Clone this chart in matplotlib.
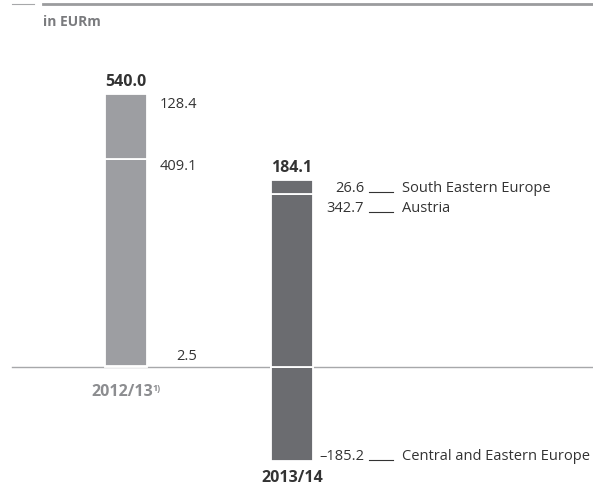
import matplotlib.pyplot as plt
from matplotlib.lines import Line2D

plt.rcParams['font.family'] = ['Open Sans', 'DejaVu Sans']

years = ['2012/13', '2013/14']
regions = ['Central and Eastern Europe', 'Austria', 'South Eastern Europe']
# values per region, first year then second year
cee = [2.5, -185.2]
austria = [409.1, 342.7]
see = [128.4, 26.6]
totals = [540.0, 184.1]

bar_colors = ['#9d9ea2', '#6b6c70']
dark = '#333333'
gray = '#8c8d90'
line_gray = '#a7a8aa'
fs = 10.5
fs_bold = 11.5

fig = plt.figure(figsize=(5.93, 4.87), dpi=100)
ax = fig.add_axes([0, 0, 1, 1])
ax.set_xlim(-0.759, 2.813)
ax.set_ylim(-237.6, 726.7)
ax.axis('off')

w = 0.253
x = [0, 1]

# baseline
ax.axhline(0, xmin=12 / 593, xmax=1, color=line_gray, lw=1, zorder=1)

for i in range(2):
    # stack: positives from zero up, negatives from zero down
    pos_bottom = 0.0
    neg_bottom = 0.0
    for v in [cee[i], austria[i], see[i]]:
        if v >= 0:
            ax.bar(x[i], v, w, bottom=pos_bottom, color=bar_colors[i],
                   edgecolor='white', linewidth=1.3, zorder=2)
            pos_bottom += v
        else:
            ax.bar(x[i], v, w, bottom=neg_bottom, color=bar_colors[i],
                   edgecolor='white', linewidth=1.3, zorder=2)
            neg_bottom += v
    # total on top of bar
    ax.annotate(f'{totals[i]:.1f}', (x[i], pos_bottom), xytext=(0, 3),
                textcoords='offset points', ha='center', va='bottom',
                fontsize=fs_bold, fontweight='bold', color=dark)

# labels for first year (right of bar, aligned at top of segments)
lx = 0.428
top_see = cee[0] + austria[0] + see[0]
top_aut = cee[0] + austria[0]
ax.annotate(f'{see[0]:.1f}', (lx, top_see), xytext=(0, -2), textcoords='offset points',
            ha='right', va='top', fontsize=fs, color=dark)
ax.annotate(f'{austria[0]:.1f}', (lx, top_aut), xytext=(0, 0), textcoords='offset points',
            ha='right', va='top', fontsize=fs, color=dark)
ax.annotate(f'{cee[0]:.1f}', (lx, cee[0]), xytext=(0, 1.5), textcoords='offset points',
            ha='right', va='bottom', fontsize=fs, color=dark)

# labels for second year with leader lines and region names
rx = 1.434
top2 = austria[1] + see[1]
label_y = [top2 - 23, top2 - 62, cee[1] + 1]
label_v = [see[1], austria[1], cee[1]]
label_n = ['South Eastern Europe', 'Austria', 'Central and Eastern Europe']
for yy, v, n in zip(label_y, label_v, label_n):
    txt = f'{v:.1f}'.replace('-', '\u2013')
    ax.text(rx, yy, txt, ha='right', va='baseline', fontsize=fs, color=dark)
    ax.plot([1.464, 1.608], [yy, yy], color=dark, lw=0.8)
    ax.text(1.663, yy, n, ha='left', va='baseline', fontsize=fs, color=dark)

# year labels
ax.annotate(years[0], (x[0], 0), xytext=(-3, -12), textcoords='offset points',
            ha='center', va='top', fontsize=fs_bold, fontweight='bold', color=gray)
ax.annotate('1)', (x[0], 0), xytext=(19, -12), textcoords='offset points',
            ha='left', va='top', fontsize=6.5, fontweight='bold', color=gray)
ax.annotate(years[1], (x[1], cee[1]), xytext=(0, -6.5), textcoords='offset points',
            ha='center', va='top', fontsize=fs_bold, fontweight='bold', color=dark)

# header rules and unit
fig.add_artist(Line2D([12 / 593, 34 / 593], [1 - 4 / 487] * 2, color=line_gray, lw=0.8))
fig.add_artist(Line2D([43 / 593, 1], [1 - 4 / 487] * 2, color='#9b9c9e', lw=2))
fig.text(43 / 593, 1 - 22 / 487, 'in EURm', ha='left', va='center',
         fontsize=10, fontweight='bold', color='#7a7b7e')

fig.savefig('out.png', dpi=100)
